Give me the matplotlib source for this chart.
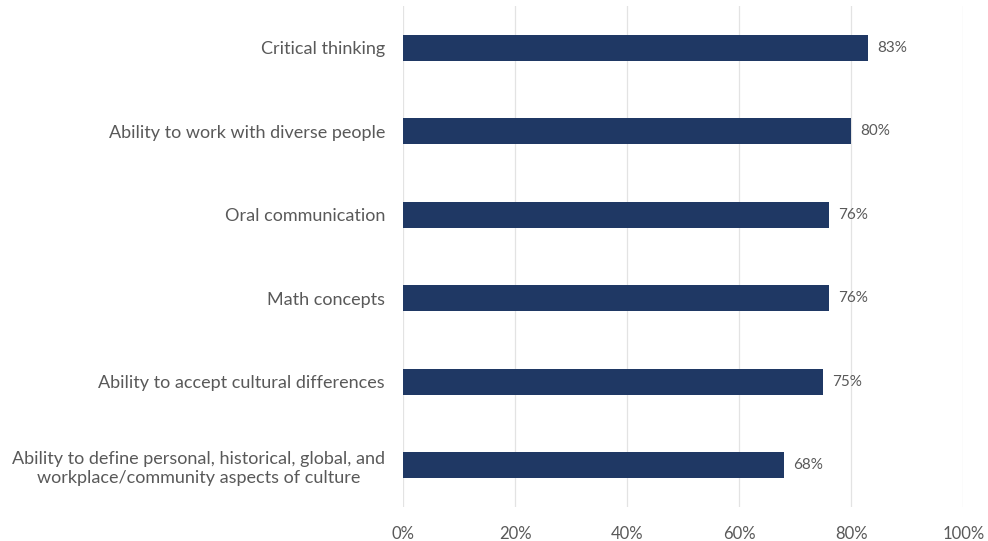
import matplotlib
matplotlib.use("Agg")
import matplotlib.pyplot as plt
from matplotlib.ticker import FuncFormatter

categories = [
    "Critical thinking",
    "Ability to work with diverse people",
    "Oral communication",
    "Math concepts",
    "Ability to accept cultural differences",
    "Ability to define personal, historical, global, and\nworkplace/community aspects of culture",
]
values = [83, 80, 76, 76, 75, 68]
xticks = [0, 20, 40, 60, 80, 100]

plt.rcParams['font.family'] = ['Lato', 'DejaVu Sans']
fig = plt.figure(figsize=(9.88, 5.41), dpi=100)
ax = fig.add_axes([0.408, 0.063, 0.567, 0.926])

ypos = list(range(len(categories)))
ax.barh(ypos, values, height=0.31, color="#1F3864", zorder=3)
for y, v in zip(ypos, values):
    ax.text(v + 1.6, y, f"{v}%", va="center", ha="left", fontsize=11, color="#595959")

ax.set_xlim(0, 100)
ax.set_ylim(len(categories) - 0.5, -0.5)
ax.set_yticks(ypos)
ax.set_yticklabels(categories, fontsize=13, color="#595959", linespacing=1.25)
for lbl in ax.get_yticklabels():
    lbl.set_multialignment("center")
ax.set_xticks(xticks)
ax.xaxis.set_major_formatter(FuncFormatter(lambda x, p: f"{int(x)}%"))
ax.tick_params(axis="x", labelsize=12, labelcolor="#595959", length=0, pad=14)
ax.tick_params(axis="y", length=0, pad=13)
ax.grid(axis="x", color="#e3e3e3", linewidth=0.9, zorder=0)
for s in ax.spines.values():
    s.set_visible(False)

fig.savefig("out.png", dpi=100)
